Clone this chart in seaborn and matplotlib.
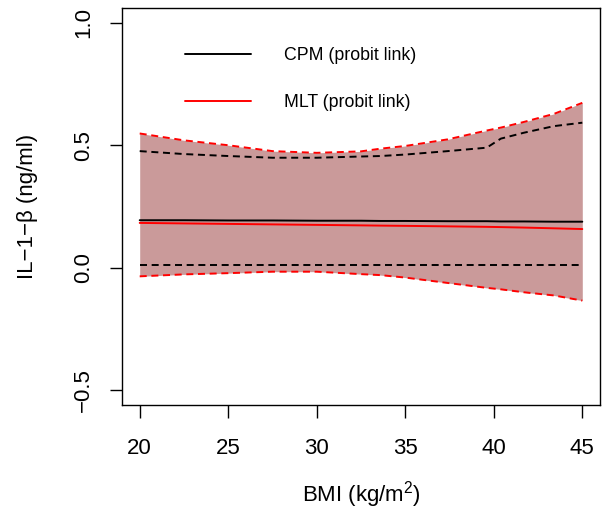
import numpy as np
import pandas as pd
import matplotlib
matplotlib.use("Agg")
import matplotlib.pyplot as plt
import seaborn as sns

# ---- data ----
bmi = [20, 22.5, 25, 27.5, 30, 32.5, 33.6, 35, 37.4, 39.6, 40.4, 41.7, 43.4, 45]
cpm_mean = [0.194, 0.194, 0.193, 0.193, 0.192, 0.192, 0.191, 0.191, 0.190, 0.190, 0.189, 0.189, 0.188, 0.188]
cpm_upper = [0.476, 0.464, 0.456, 0.449, 0.449, 0.454, 0.456, 0.462, 0.476, 0.490, 0.527, 0.551, 0.578, 0.592]
cpm_lower = [0.011, 0.011, 0.011, 0.011, 0.011, 0.011, 0.011, 0.011, 0.011, 0.011, 0.011, 0.011, 0.011, 0.011]
mlt_mean = [0.183, 0.181, 0.179, 0.177, 0.175, 0.173, 0.172, 0.171, 0.169, 0.167, 0.166, 0.164, 0.161, 0.158]
mlt_upper = [0.548, 0.520, 0.500, 0.476, 0.469, 0.475, 0.486, 0.497, 0.524, 0.560, 0.572, 0.595, 0.628, 0.673]
mlt_lower = [-0.035, -0.027, -0.022, -0.016, -0.016, -0.026, -0.030, -0.040, -0.062, -0.082, -0.088, -0.100, -0.113, -0.134]

legend_labels = ["CPM (probit link)", "MLT (probit link)"]
xticks = [20, 25, 30, 35, 40, 45]
yticks = [-0.5, 0.0, 0.5, 1.0]

df = pd.DataFrame({
    "bmi": bmi, "cpm_mean": cpm_mean, "cpm_upper": cpm_upper, "cpm_lower": cpm_lower,
    "mlt_mean": mlt_mean, "mlt_upper": mlt_upper, "mlt_lower": mlt_lower,
})

sns.set_style("white")
plt.rcParams["font.family"] = ["Liberation Sans", "DejaVu Sans"]
plt.rcParams["mathtext.fontset"] = "custom"
plt.rcParams["mathtext.rm"] = "Liberation Sans"
plt.rcParams["mathtext.it"] = "Liberation Sans:italic"
plt.rcParams["text.color"] = "black"
plt.rcParams["axes.labelcolor"] = "black"

fig = plt.figure(figsize=(6.08, 5.12), dpi=100)
ax = fig.add_axes([122 / 608, 1 - 405 / 512, (600 - 122) / 608, (405 - 8) / 512])

fill_col = "#CA9A9A"
ax.fill_between(df["bmi"], df["mlt_lower"], df["mlt_upper"], color=fill_col, linewidth=0, zorder=1)

dash = (0, (3.6, 2.4))
lw = 1.4
sns.lineplot(data=df, x="bmi", y="mlt_upper", ax=ax, color="red", lw=lw, linestyle=dash, legend=False, zorder=2)
sns.lineplot(data=df, x="bmi", y="mlt_lower", ax=ax, color="red", lw=lw, linestyle=dash, legend=False, zorder=2)
sns.lineplot(data=df, x="bmi", y="cpm_upper", ax=ax, color="black", lw=lw, linestyle=dash, legend=False, zorder=3)
sns.lineplot(data=df, x="bmi", y="cpm_lower", ax=ax, color="black", lw=lw, linestyle=dash, legend=False, zorder=3)
sns.lineplot(data=df, x="bmi", y="cpm_mean", ax=ax, color="black", lw=lw, label=legend_labels[0], zorder=4)
sns.lineplot(data=df, x="bmi", y="mlt_mean", ax=ax, color="red", lw=lw, label=legend_labels[1], zorder=4)

ax.set_xlim(19, 46)
ax.set_ylim(-0.56, 1.06)
ax.set_xticks(xticks)
ax.set_xticklabels([str(t) for t in xticks])
ax.set_yticks(yticks)
ax.set_yticklabels(["\u22120.5", "0.0", "0.5", "1.0"], rotation=90, va="center")

for s in ax.spines.values():
    s.set_visible(True)
    s.set_color("black")
    s.set_linewidth(1.0)

fs = 16
ax.tick_params(axis="both", which="major", direction="out", length=9, width=1.0,
               color="black", labelsize=fs, labelcolor="black")
ax.tick_params(axis="x", pad=15)
ax.tick_params(axis="y", pad=11)
ax.tick_params(left=True, bottom=True)

ax.set_xlabel(r"BMI (kg/m$^{2}$)", fontsize=fs, labelpad=14)
ax.set_ylabel("IL\u22121\u2212\u03b2 (ng/ml)", fontsize=fs, labelpad=25)

leg = ax.legend(loc="upper left", bbox_to_anchor=((185 - 122) / 478, 1 - (47 - 8) / 397),
                frameon=False, fontsize=12.8, handlelength=3.7, handletextpad=1.85,
                labelspacing=1.7, borderpad=0, borderaxespad=0)
for t in leg.get_texts():
    t.set_color("black")

fig.savefig("out.png", dpi=100)
